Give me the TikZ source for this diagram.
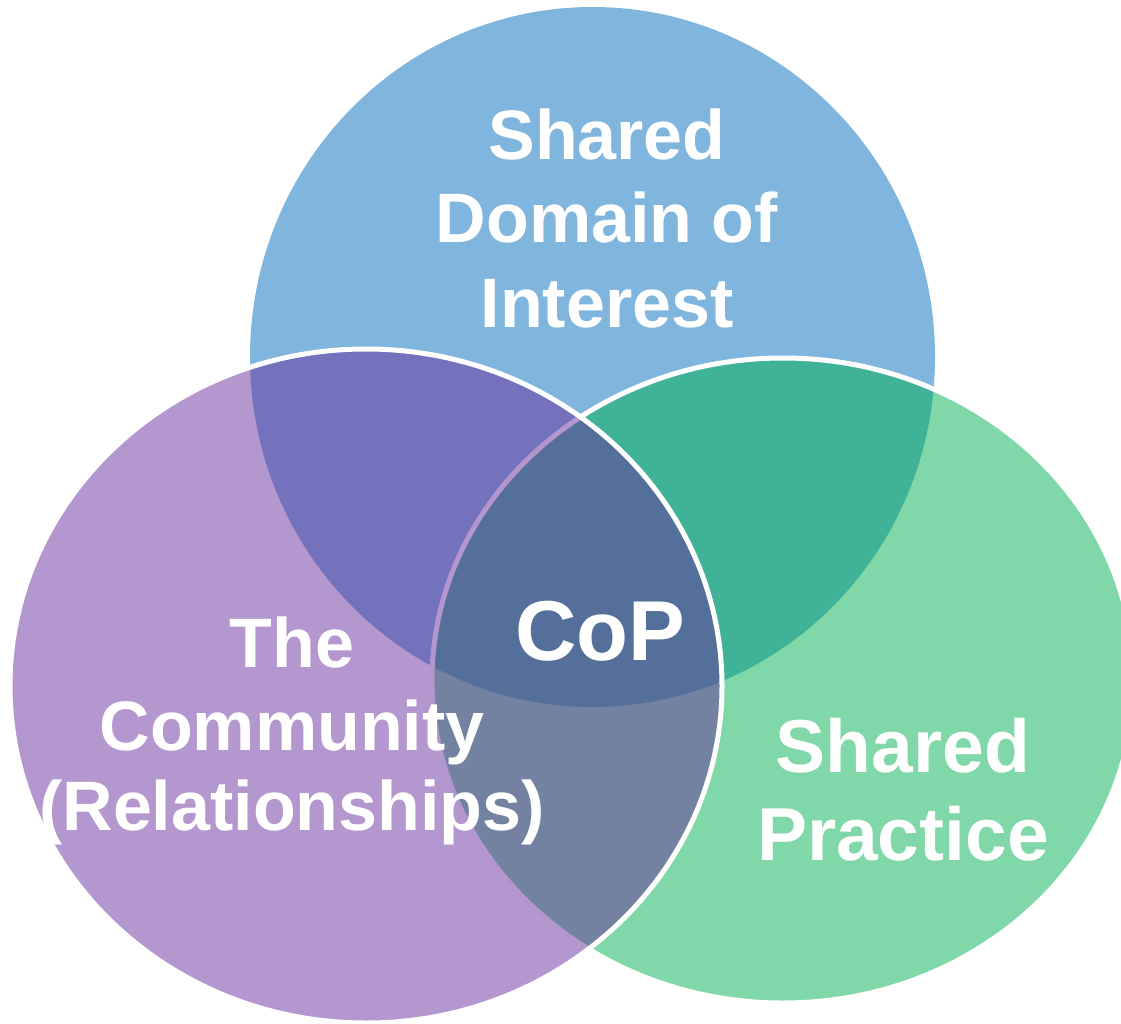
\documentclass[tikz,border=0pt]{standalone}
\usepackage{fontspec}
\setmainfont{Liberation Sans}
\definecolor{topblue}{RGB}{128,182,222}
\definecolor{cgreen}{RGB}{1,175,81}
\definecolor{cpurple}{RGB}{105,47,157}
\tikzset{
  lbl/.style={text=white, font=\bfseries\fontsize{70}{84}\selectfont, anchor=base, inner sep=0pt},
  lblbig/.style={text=white, font=\bfseries\fontsize{75}{88}\selectfont, anchor=base, inner sep=0pt},
  coplbl/.style={text=white, font=\bfseries\fontsize{85}{100}\selectfont, anchor=base, inner sep=0pt},
  ring/.style={draw=white, line width=5pt, fill opacity=0.5}
}
\begin{document}
\begin{tikzpicture}[x=1pt,y=-1pt]
\useasboundingbox (0,0) rectangle (1121,1024);
\begin{scope}
\clip (0,0) rectangle (1121,1024);
% Shared Domain of Interest
\fill[topblue] (592.5,357) ellipse [x radius=342.5, y radius=350];
% Shared Practice
\path[ring, fill=cgreen] (783,680.5) ellipse [x radius=351, y radius=322.5];
% The Community
\path[ring, fill=cpurple] (366,686) ellipse [x radius=356, y radius=337];
\end{scope}
% labels
\node[lbl] (d1) at (607,160) {Shared};
\node[lbl] (d2) at (607,243) {Domain of};
\node[lbl] (d3) at (607,327) {Interest};
\node[lbl] (c1) at (292,667) {The};
\node[lbl] (c2) at (292,750) {Community};
\node[lbl] (c3) at (292,830) {(Relationships)};
\node[lblbig] (p1) at (903,772) {Shared};
\node[lblbig] (p2) at (903,860) {Practice};
\node[coplbl] (cop) at (600,660) {CoP};
\end{tikzpicture}
\end{document}
